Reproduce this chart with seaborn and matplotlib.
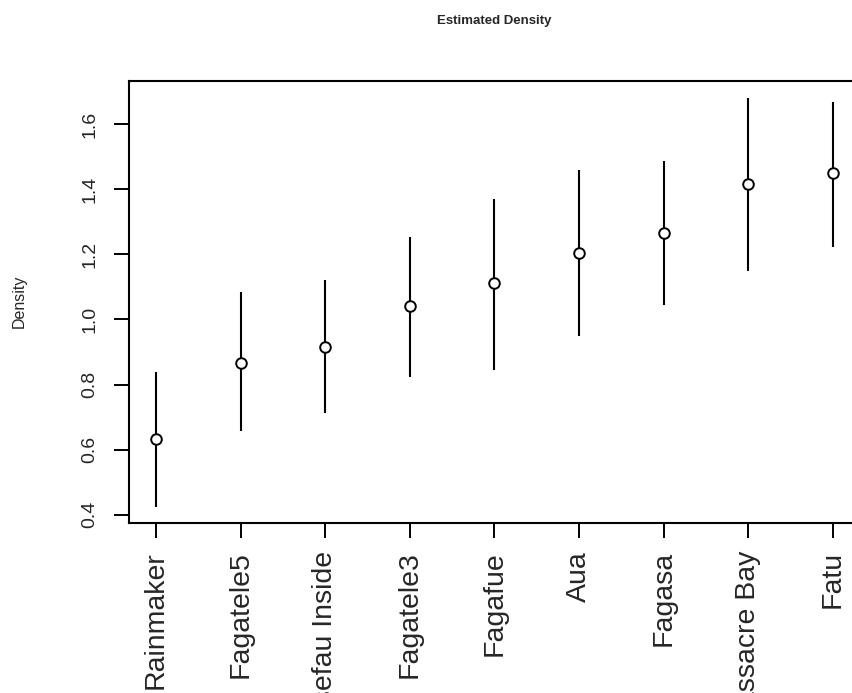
import numpy as np
import pandas as pd
import matplotlib
matplotlib.use('Agg')
import matplotlib.pyplot as plt
import seaborn as sns

# site estimates with lower / upper interval ends
sites = ['Rainmaker', 'Fagatele5', 'Masefau Inside', 'Fagatele3', 'Fagafue',
         'Aua', 'Fagasa', 'Massacre Bay', 'Fatu']
density = [0.633, 0.867, 0.916, 1.042, 1.113, 1.205, 1.264, 1.417, 1.449]
lower = [0.425, 0.656, 0.714, 0.822, 0.846, 0.948, 1.045, 1.150, 1.221]
upper = [0.838, 1.083, 1.121, 1.252, 1.371, 1.458, 1.485, 1.681, 1.669]
yticks = [0.4, 0.6, 0.8, 1.0, 1.2, 1.4, 1.6]

df = pd.DataFrame({'site': sites, 'density': density, 'lower': lower, 'upper': upper})
df['pos'] = np.arange(len(df))

sns.set_style('ticks')
plt.rcParams['font.family'] = ['Liberation Sans', 'DejaVu Sans']

fig = plt.figure(figsize=(8.53, 6.93), dpi=100)
ax = fig.add_axes([0.1512, 0.2453, 0.857, 0.6378])

# interval lines
ax.vlines(df['pos'], df['lower'], df['upper'], color='black', linewidth=1.5)
# point estimates
sns.scatterplot(data=df, x='pos', y='density', ax=ax, marker='o', s=58,
                facecolor='white', edgecolor='black', linewidth=1.4, zorder=3)

n = len(df)
ax.set_xlim(-0.04 * (n - 1), (n - 1) * 1.04)
ax.set_ylim(0.375, 1.732)

ax.set_xticks(df['pos'])
ax.set_xticklabels(df['site'], rotation=90, fontsize=20.5)
ax.set_yticks(yticks)
ax.set_yticklabels(['%.1f' % v for v in yticks], rotation=90, fontsize=14, va='center')

ax.tick_params(axis='both', direction='out', length=11, width=1.4, color='black')
ax.tick_params(axis='x', pad=9)
ax.tick_params(axis='y', pad=11)

for sp in ax.spines.values():
    sp.set_linewidth(1.5)
    sp.set_color('black')

ax.set_xlabel('')
ax.set_ylabel('')
fig.text(0.022, 0.565, 'Density', rotation=90, ha='center', va='center', fontsize=11.5)
fig.text(0.579, 0.970, 'Estimated Density', ha='center', va='center',
         fontsize=9.5, fontweight='bold')

fig.savefig('out.png', dpi=100)
